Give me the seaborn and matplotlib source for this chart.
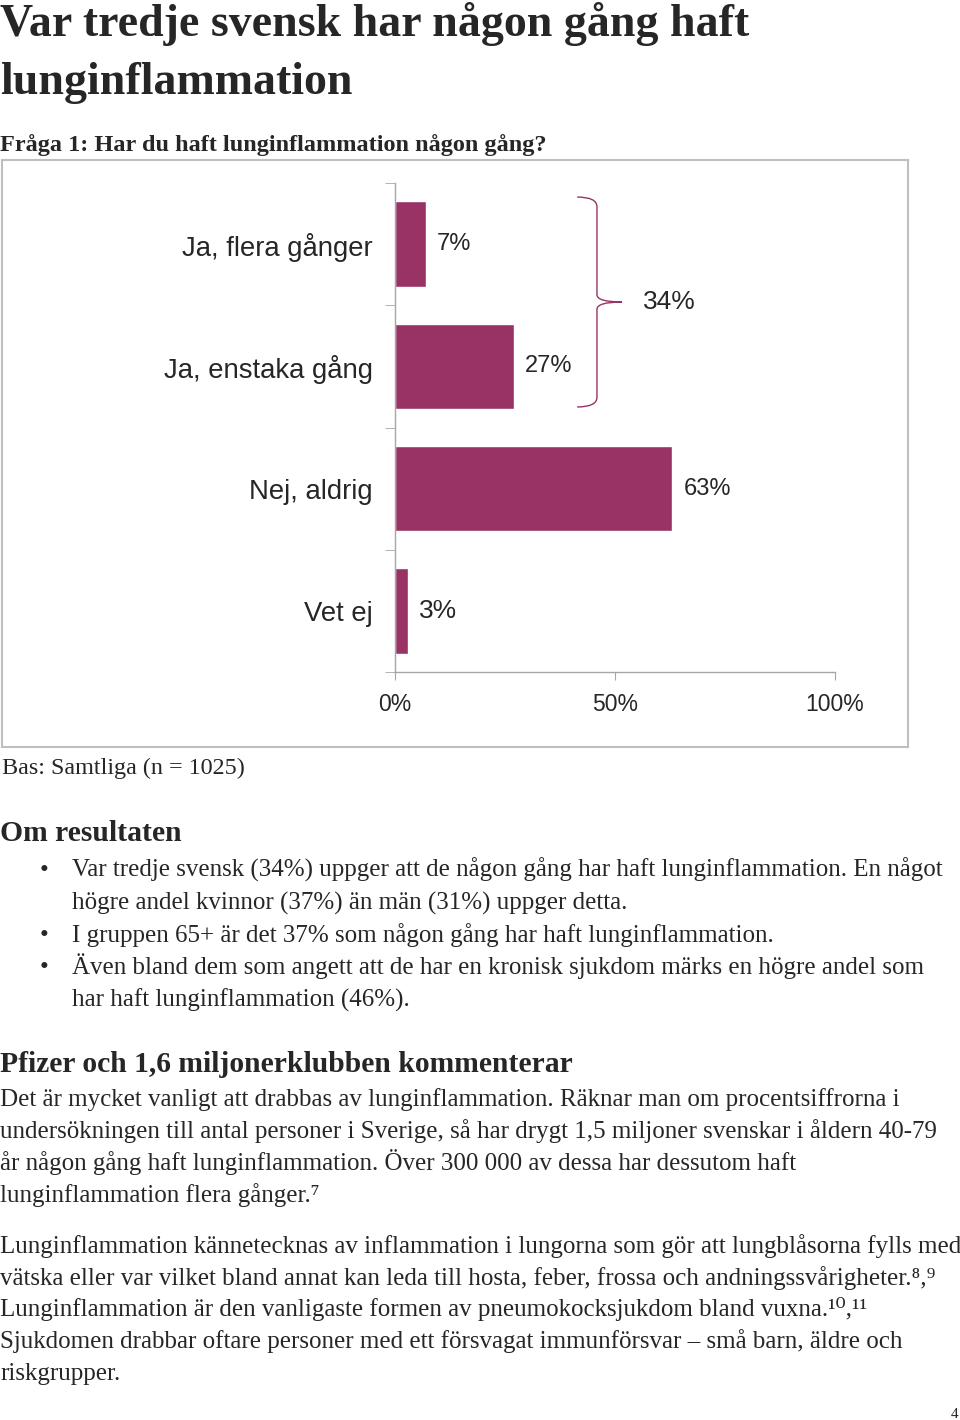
import matplotlib
matplotlib.use("Agg")
from matplotlib import pyplot as plt
from matplotlib.patches import Rectangle, PathPatch
from matplotlib.path import Path
import seaborn as sns

# data
categories = ["Ja, flera gånger", "Ja, enstaka gång", "Nej, aldrig", "Vet ej"]
values = [7, 27, 63, 3]
xticks = [0, 50, 100]
xtick_labels = ["0%", "50%", "100%"]

title_lines = ["Var tredje svensk har någon gång haft", "lunginflammation"]
question = "Fråga 1: Har du haft lunginflammation någon gång?"
base_note = "Bas: Samtliga (n = 1025)"
result_head = "Om resultaten"
bullets = [
    ["Var tredje svensk (34%) uppger att de någon gång har haft lunginflammation. En något",
     "högre andel kvinnor (37%) än män (31%) uppger detta."],
    ["I gruppen 65+ är det 37% som någon gång har haft lunginflammation."],
    ["Även bland dem som angett att de har en kronisk sjukdom märks en högre andel som",
     "har haft lunginflammation (46%)."],
]
comment_head = "Pfizer och 1,6 miljonerklubben kommenterar"
para1 = [
    "Det är mycket vanligt att drabbas av lunginflammation. Räknar man om procentsiffrorna i",
    "undersökningen till antal personer i Sverige, så har drygt 1,5 miljoner svenskar i åldern 40-79",
    "år någon gång haft lunginflammation. Över 300 000 av dessa har dessutom haft",
    "lunginflammation flera gånger.⁷",
]
para2 = [
    "Lunginflammation kännetecknas av inflammation i lungorna som gör att lungblåsorna fylls med",
    "vätska eller var vilket bland annat kan leda till hosta, feber, frossa och andningssvårigheter.⁸,⁹",
    "Lunginflammation är den vanligaste formen av pneumokocksjukdom bland vuxna.¹⁰,¹¹",
    "Sjukdomen drabbar oftare personer med ett försvagat immunförsvar – små barn, äldre och",
    "riskgrupper.",
]
page_no = "4"

W, H = 960, 1420
plum = "#993366"
grey = "#a6a6a6"
serif = ["Liberation Serif", "DejaVu Serif"]
sans = ["Liberation Sans", "DejaVu Sans"]

sns.set_style("white")
plt.rcParams["font.family"] = serif

fig = plt.figure(figsize=(W / 100, H / 100), dpi=100)


def put(x, y, s, **kw):
    # x, y in pixels from top-left, y is the baseline
    fig.text(x / W, 1 - y / H, s, va="baseline", **kw)


# heading texts
put(0, 36, title_lines[0], fontsize=33, fontweight="bold")
put(0, 94, title_lines[1], fontsize=33, fontweight="bold")
put(0, 151, question, fontsize=17.5, fontweight="bold")

# outer frame of the chart
fig.patches.append(Rectangle((2 / W, 1 - 747 / H), 906 / W, 587 / H,
                             transform=fig.transFigure, fill=False,
                             edgecolor="#bfbfbf", linewidth=1.5))

ax = fig.add_axes([395 / W, 1 - 672 / H, 440 / W, 489 / H])
sns.barplot(x=values, y=categories, orient="h", color=plum, saturation=1,
            width=0.7, ax=ax)
ax.set_xlim(0, 100)
ax.set_ylim(3.5, -0.5)
ax.set_xlabel("")
ax.set_ylabel("")
sns.despine(ax=ax)
for side in ["left", "bottom"]:
    ax.spines[side].set_color(grey)
    ax.spines[side].set_linewidth(1)
ax.set_xticks(xticks)
ax.set_xticklabels(xtick_labels, fontsize=16.5, family=sans)
ax.tick_params(axis="x", length=6, color=grey, pad=9, direction="out", bottom=True)
ax.set_yticks(range(len(categories)))
ax.set_yticklabels(categories, fontsize=19.8, family=sans)
ax.tick_params(axis="y", length=0, pad=16)
ax.set_yticks([i - 0.5 for i in range(len(categories) + 1)], minor=True)
ax.tick_params(axis="y", which="minor", length=7, color=grey, direction="out", left=True)

for i, v in enumerate(values):
    size = 19 if v < 5 else 17
    ax.annotate(f"{v}%", (v, i), xytext=(8, 0), textcoords="offset points",
                va="center", ha="left", fontsize=size, family=sans)

# brace grouping the two "Ja" answers
total = values[0] + values[1]
yt, yb = -0.385, 1.332
ym = (yt + yb) / 2
x0, x1, xt = 41.4, 45.9, 51.6
verts = [(x0, yt), (x1, yt), (x1, yt + 0.08),
         (x1, ym - 0.06), (x1, ym), (xt, ym),
         (x1, ym), (x1, ym + 0.06),
         (x1, yb - 0.08), (x1, yb), (x0, yb)]
codes = [Path.MOVETO, Path.CURVE3, Path.CURVE3,
         Path.LINETO, Path.CURVE3, Path.CURVE3,
         Path.CURVE3, Path.CURVE3,
         Path.LINETO, Path.CURVE3, Path.CURVE3]
ax.add_patch(PathPatch(Path(verts, codes), fill=False, edgecolor=plum,
                       linewidth=1, clip_on=False))
ax.text(56.4, ym, f"{total}%", va="center", ha="left", fontsize=19, family=sans)

# text below the chart
body = 18
put(2, 774, base_note, fontsize=17.4)
put(0, 841, result_head, fontsize=21.3, fontweight="bold")
y = 877
for b in bullets:
    put(40, y, "•", fontsize=body)
    for line in b:
        put(72, y, line, fontsize=body)
        y += 32.3

put(0, 1072, comment_head, fontsize=21.3, fontweight="bold")
y = 1106
for line in para1:
    put(0, y, line, fontsize=body)
    y += 32
y = 1253
for line in para2:
    put(0, y, line, fontsize=body)
    y += 31.7
put(958, 1418, page_no, fontsize=11, ha="right")

fig.savefig("out.png", dpi=100)
